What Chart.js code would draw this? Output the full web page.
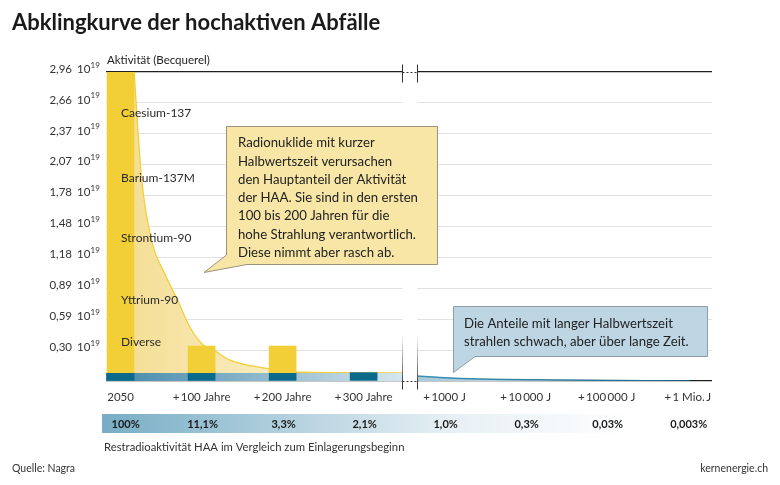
<!DOCTYPE html>
<html>
<head>
<meta charset="utf-8">
<script src="https://cdn.jsdelivr.net/npm/chart.js@4.4.1/dist/chart.umd.min.js"></script>
<style>
  html, body { margin: 0; padding: 0; background: #fff; }
  canvas { display: block; }
</style>
</head>
<body>
<canvas id="abklingChart" width="780" height="485"></canvas>
<script>
// --- DATEN ---

// Kategorien der x-Achse (gleichmässig verteilt, Achse mit Bruch nach +300 Jahre)
const kategorien = ['2050', '+\u2009100 Jahre', '+\u2009200 Jahre', '+\u2009300 Jahre',
  '+\u20091000 J', '+\u200910\u2009000 J', '+\u2009100\u2009000 J', '+\u20091 Mio.\u2009J'];

// Restradioaktivität im Vergleich zum Einlagerungsbeginn
const restAktivitaet = ['100%', '11,1%', '3,3%', '2,1%', '1,0%', '0,3%', '0,03%', '0,003%'];

// y-Achse in 10^19 Becquerel
const yTicks = [0, 0.296, 0.592, 0.888, 1.184, 1.48, 1.776, 2.072, 2.368, 2.664, 2.96];
const yTickLabels = ['', '0,30', '0,59', '0,89', '1,18', '1,48', '1,78', '2,07', '2,37', '2,66', '2,96'];

// Balken der ersten vier Kategorien
const langlebigBalken = [0.08, 0.08, 0.08, 0.08];      // dunkelblauer Sockel
const gesamtBalken = [2.96, 0.335, 0.335, 0.08];       // Oberkante gelb

// Abklingkurve der kurzlebigen Nuklide (x in Kategorie-Einheiten)
const kurveX = [0.167, 0.21, 0.26, 0.39, 0.525, 0.70, 0.86, 1.02, 1.14, 1.35, 1.76, 2.13, 2.8, 3.5];
const kurveY = [2.96, 2.45, 1.93, 1.32, 1.06, 0.78, 0.51, 0.345, 0.30, 0.20, 0.125, 0.086, 0.079, 0.077];

// Langlebiger Anteil links vom Achsenbruch
const langX = [-0.18, 3.5];
const langY = [0.077, 0.077];

// Langlebiger Anteil rechts vom Achsenbruch
const langRechtsX = [3.66, 3.94, 4.44, 5.42, 7.03];
const langRechtsY = [0.048, 0.034, 0.019, 0.010, 0.0];

// Nuklide im Balken 2050
const nuklide = ['Caesium-137', 'Barium-137M', 'Strontium-90', 'Yttrium-90', 'Diverse'];
const nuklidY = [2.57, 1.94, 1.37, 0.77, 0.37];

const zuPunkten = (xs, ys) => xs.map((x, i) => ({ x: x, y: ys[i] }));

const SCHRIFT = 'Lato, "Open Sans", sans-serif';
const GELB = '#f2cf36';
const PETROL = '#0b6a8c';
const BRUCH = 3.57;

// horizontaler Verlauf über die x-Skala
function verlauf(context, von, bis, farbe1, farbe2) {
    const chart = context.chart;
    if (!chart.chartArea) return farbe1;
    const x = chart.scales.x;
    const g = chart.ctx.createLinearGradient(x.getPixelForValue(von), 0, x.getPixelForValue(bis), 0);
    g.addColorStop(0, farbe1);
    g.addColorStop(1, farbe2);
    return g;
}

function sprechblase(c, punkte, fuellung, rand) {
    c.beginPath();
    c.moveTo(punkte[0][0], punkte[0][1]);
    for (let i = 1; i < punkte.length; i++) c.lineTo(punkte[i][0], punkte[i][1]);
    c.closePath();
    c.fillStyle = fuellung;
    c.fill();
    c.lineWidth = 1;
    c.strokeStyle = rand;
    c.stroke();
}

// Plugin für Achsenbruch, Beschriftungen und Sprechblasen
const dekor = {
    id: 'dekor',
    afterDatasetsDraw(chart) {
        const c = chart.ctx;
        const x = chart.scales.x, y = chart.scales.y;
        const a = chart.chartArea;
        const xm = x.getPixelForValue(BRUCH);
        const x1 = Math.round(xm - 7.5) + 0.5, x2 = Math.round(xm + 7.5) + 0.5;
        const yTop = Math.round(y.getPixelForValue(2.96)) + 0.5;
        const yNull = Math.round(y.getPixelForValue(0)) + 0.5;

        c.save();
        // weisse Lücke
        c.fillStyle = '#fff';
        c.fillRect(x1, a.top - 8, x2 - x1, a.bottom - a.top + 17);
        // senkrechte Striche oben
        c.strokeStyle = '#333';
        c.lineWidth = 1;
        c.beginPath();
        c.moveTo(x1, yTop - 8); c.lineTo(x1, yTop + 10);
        c.moveTo(x2, yTop - 8); c.lineTo(x2, yTop + 10);
        c.stroke();
        // senkrechte Striche unten (ausgeblendet nach oben)
        const gs = c.createLinearGradient(0, yNull - 48, 0, yNull + 8);
        gs.addColorStop(0, 'rgba(60,60,60,0)');
        gs.addColorStop(1, 'rgba(40,40,40,1)');
        c.strokeStyle = gs;
        c.beginPath();
        c.moveTo(x1, yNull - 48); c.lineTo(x1, yNull + 8);
        c.moveTo(x2, yNull - 48); c.lineTo(x2, yNull + 8);
        c.stroke();
        // gepunktete Verbindungen
        c.strokeStyle = '#333';
        c.setLineDash([2, 2]);
        c.beginPath();
        c.moveTo(x1, yTop); c.lineTo(x2, yTop);
        c.moveTo(x1, yNull); c.lineTo(x2, yNull);
        c.stroke();
        c.restore();
    },
    afterDraw(chart) {
        const c = chart.ctx;
        const x = chart.scales.x, y = chart.scales.y;
        c.save();
        c.textBaseline = 'middle';

        // Titel
        c.fillStyle = '#1a1a1a';
        c.font = 'bold 22px ' + SCHRIFT;
        c.textAlign = 'left';
        c.fillText('Abklingkurve der hochaktiven Abfälle', 12, 23);

        // Achsentitel
        c.font = '11.5px ' + SCHRIFT;
        c.fillStyle = '#222';
        c.fillText('Aktivität (Becquerel)', 107, 60);

        // y-Beschriftungen mit Hochzahl
        yTicks.forEach((v, i) => {
            if (!yTickLabels[i]) return;
            const py = y.getPixelForValue(v) - 3;
            c.fillStyle = '#333';
            c.font = '11.5px ' + SCHRIFT;
            c.textAlign = 'right';
            c.fillText(yTickLabels[i], 72, py);
            c.textAlign = 'left';
            c.fillText('10', 77, py);
            c.font = '8px ' + SCHRIFT;
            c.fillText('19', 90.5, py - 4);
        });

        // Nuklide
        c.font = '12px ' + SCHRIFT;
        c.fillStyle = '#2a2a2a';
        c.textAlign = 'left';
        nuklide.forEach((n, i) => c.fillText(n, 121, y.getPixelForValue(nuklidY[i])));

        // Sprechblase kurzlebig
        sprechblase(c, [[226.5, 126.5], [437.5, 126.5], [437.5, 264.5], [247, 264.5], [204, 272.5], [226.5, 255]],
            '#f8e6a6', '#9c927c');
        c.fillStyle = '#222';
        c.font = '13.2px ' + SCHRIFT;
        ['Radionuklide mit kurzer', 'Halbwertszeit verursachen', 'den Hauptanteil der Aktivität',
         'der HAA. Sie sind in den ersten', '100 bis 200 Jahren für die',
         'hohe Strahlung verantwortlich.', 'Diese nimmt aber rasch ab.']
            .forEach((t, i) => c.fillText(t, 238, 143 + i * 18.3));

        // Sprechblase langlebig
        sprechblase(c, [[453.5, 306.5], [707.5, 306.5], [707.5, 356.5], [475, 356.5], [453.5, 372.5]],
            '#bed6e4', '#8d9ca6');
        c.fillStyle = '#222';
        ['Die Anteile mit langer Halbwertszeit', 'strahlen schwach, aber über lange Zeit.']
            .forEach((t, i) => c.fillText(t, 464, 324 + i * 18));

        // Band mit Restradioaktivität
        const gb = c.createLinearGradient(102, 0, 730, 0);
        gb.addColorStop(0, '#78adc5');
        gb.addColorStop(0.55, '#e6eff4');
        gb.addColorStop(0.85, '#ffffff');
        c.fillStyle = gb;
        c.fillRect(102, 414, 640, 19);
        c.fillStyle = '#1a1a1a';
        c.font = 'bold 11px ' + SCHRIFT;
        c.textAlign = 'center';
        restAktivitaet.forEach((t, i) => c.fillText(t, x.getPixelForValue(i) + (i === 0 ? 5 : 1), 424));

        c.textAlign = 'left';
        c.font = '11.3px ' + SCHRIFT;
        c.fillStyle = '#333';
        c.fillText('Restradioaktivität HAA im Vergleich zum Einlagerungsbeginn', 104, 447);

        // Quelle
        c.font = '10.5px ' + SCHRIFT;
        c.fillText('Quelle: Nagra', 12, 469);
        c.textAlign = 'right';
        c.fillText('kernenergie.ch', 768, 469);
        c.restore();
    }
};

const ctx = document.getElementById('abklingChart').getContext('2d');

new Chart(ctx, {
    type: 'bar',
    data: {
        datasets: [
            {
                type: 'line',
                label: 'Kurzlebig',
                data: zuPunkten(kurveX, kurveY),
                borderColor: GELB,
                borderWidth: 1.3,
                pointRadius: 0,
                cubicInterpolationMode: 'monotone',
                fill: 'origin',
                backgroundColor: (c) => verlauf(c, 0.17, 3.5, '#f5df97', '#fdf7e6'),
                order: 5
            },
            {
                type: 'line',
                label: 'Langlebig',
                data: zuPunkten(langX, langY),
                borderWidth: 0,
                pointRadius: 0,
                fill: 'origin',
                backgroundColor: (c) => verlauf(c, -0.18, 3.5, '#3f86a9', '#d7e7ee'),
                order: 4
            },
            {
                type: 'line',
                label: 'Langlebig (später)',
                data: zuPunkten(langRechtsX, langRechtsY),
                borderColor: (c) => verlauf(c, 3.66, 7.03, '#3d8fb3', '#1a6788'),
                borderWidth: 1.5,
                pointRadius: 0,
                cubicInterpolationMode: 'monotone',
                fill: 'origin',
                backgroundColor: (c) => verlauf(c, 3.66, 7.0, '#a7c9d9', '#eef5f8'),
                order: 4
            },
            {
                label: 'Langlebiger Sockel',
                data: langlebigBalken.map((v, i) => ({ x: i, y: v })),
                backgroundColor: PETROL,
                barThickness: 27,
                grouped: false,
                order: 2
            },
            {
                label: 'Kurzlebige Nuklide',
                data: gesamtBalken.map((v, i) => ({ x: i, y: v > langlebigBalken[i] ? [langlebigBalken[i], v] : null })),
                backgroundColor: GELB,
                barThickness: 27,
                grouped: false,
                order: 1
            }
        ]
    },
    options: {
        responsive: false,
        animation: false,
        layout: { padding: { top: 72, right: 68, bottom: 74, left: 0 } },
        plugins: {
            legend: { display: false },
            tooltip: { enabled: false }
        },
        scales: {
            x: {
                type: 'linear',
                min: -0.18,
                max: 7.3,
                offset: false,
                grid: { display: false, drawTicks: false },
                border: { display: false },
                afterBuildTicks: (s) => { s.ticks = kategorien.map((_, i) => ({ value: i })); },
                afterFit: (s) => { s.height = 30; },
                ticks: {
                    autoSkip: false,
                    maxRotation: 0,
                    padding: 9,
                    color: '#333',
                    font: { family: SCHRIFT, size: 11.5 },
                    callback: (v, i) => kategorien[i]
                }
            },
            y: {
                min: 0,
                max: 2.96,
                grid: {
                    drawTicks: false,
                    color: (c) => (c.index === 0 || c.index === yTicks.length - 1) ? '#1f1f1f' : '#e2e2e2',
                    lineWidth: (c) => (c.index === 0 || c.index === yTicks.length - 1) ? 1.3 : 1
                },
                border: { display: false },
                afterBuildTicks: (s) => { s.ticks = yTicks.map((v) => ({ value: v })); },
                afterFit: (s) => { s.width = 106; },
                ticks: { display: false }
            }
        }
    },
    plugins: [dekor]
});
</script>
</body>
</html>
